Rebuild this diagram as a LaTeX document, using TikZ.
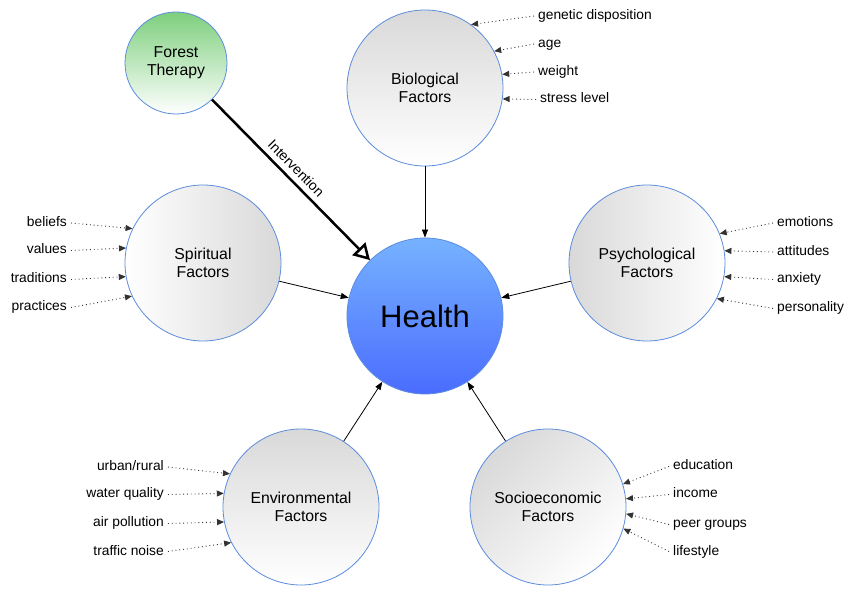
\documentclass[tikz,border=0pt]{standalone}
\usepackage{fontspec}
\setmainfont{Liberation Sans}
\usetikzlibrary{arrows.meta}
\definecolor{circblue}{RGB}{92,140,222}
\definecolor{healthtop}{RGB}{118,178,255}
\definecolor{healthbot}{RGB}{74,108,255}
\definecolor{forest}{RGB}{125,207,125}

\begin{document}
\begin{tikzpicture}[x=1pt,y=-1pt,
  factor/.style={circle,draw=circblue,line width=0.8pt,minimum size=156pt,inner sep=0pt,
    align=center,font=\fontsize{15.8}{18}\selectfont},
  item/.style={inner sep=4pt,text height=10pt,text depth=3pt,font=\fontsize{13.8}{16}\selectfont},
  feed/.style={black!80,line width=0.9pt,dash pattern=on 0.9pt off 2.9pt,-{Triangle[length=7pt,width=6pt]}},
  link/.style={line width=0.8pt,-{Triangle[length=8pt,width=6pt]}}]
  \useasboundingbox (0,0) rectangle (852,593);
  % circles
  \node[factor,top color=healthtop,bottom color=healthbot,font=\fontsize{31}{36}\selectfont] (health) at (425,316) {Health};
  \node[factor,top color=black!15,bottom color=white] (bio) at (425,88) {Biological\\Factors};
  \node[factor,left color=white,right color=black!15] (spir) at (203,263) {Spiritual\\Factors};
  \node[factor,left color=black!15,right color=white] (psy) at (647,263) {Psychological\\Factors};
  \node[factor,top color=black!15,bottom color=white] (env) at (301,507) {Environmental\\Factors};
  \node[factor,top color=black!15,bottom color=white,shading angle=45] (soc) at (548,507) {Socioeconomic\\Factors};
  \node[factor,minimum size=102pt,top color=forest,bottom color=white] (forest) at (176,63) {Forest\\Therapy};
  % biological
  \node[item,anchor=west] (gen) at (534,16) {genetic disposition};
  \node[item,anchor=west] (age) at (534,44) {age};
  \node[item,anchor=west] (wgt) at (534,72) {weight};
  \node[item,anchor=west] (str) at (536,99.5) {stress level};
  \draw[feed] (gen.west) -- (bio.54);
  \draw[feed] (age.west) -- (bio.28);
  \draw[feed] (wgt.west) -- (bio.10);
  \draw[feed] (str.west) -- (bio.-8);
  % spiritual
  \node[item,anchor=east] (bel) at (71,223) {beliefs};
  \node[item,anchor=east] (val) at (71,250.5) {values};
  \node[item,anchor=east] (tra) at (71,279.5) {traditions};
  \node[item,anchor=east] (pra) at (71,307.5) {practices};
  \draw[feed] (bel.east) -- (spir.154);
  \draw[feed] (val.east) -- (spir.169);
  \draw[feed] (tra.east) -- (spir.190);
  \draw[feed] (pra.east) -- (spir.205);
  % psychological
  \node[item,anchor=west] (emo) at (773,223) {emotions};
  \node[item,anchor=west] (att) at (773,252) {attitudes};
  \node[item,anchor=west] (anx) at (773,279.5) {anxiety};
  \node[item,anchor=west] (per) at (773,308.5) {personality};
  \draw[feed] (emo.west) -- (psy.22);
  \draw[feed] (att.west) -- (psy.9);
  \draw[feed] (anx.west) -- (psy.-10);
  \draw[feed] (per.west) -- (psy.-27);
  % environmental
  \node[item,anchor=east] (urb) at (168,467) {urban/rural};
  \node[item,anchor=east] (wat) at (168,494.5) {water quality};
  \node[item,anchor=east] (air) at (168,523.5) {air pollution};
  \node[item,anchor=east] (tra2) at (168,551.5) {traffic noise};
  \draw[feed] (urb.east) -- (env.155);
  \draw[feed] (wat.east) -- (env.170);
  \draw[feed] (air.east) -- (env.191);
  \draw[feed] (tra2.east) -- (env.207);
  % socioeconomic
  \node[item,anchor=west] (edu) at (669,466.5) {education};
  \node[item,anchor=west] (inc) at (669,494.5) {income};
  \node[item,anchor=west] (peer) at (669,524.5) {peer groups};
  \node[item,anchor=west] (life) at (669,551.5) {lifestyle};
  \draw[feed] (edu.west) -- (soc.17);
  \draw[feed] (inc.west) -- (soc.6);
  \draw[feed] (peer.west) -- (soc.-5);
  \draw[feed] (life.west) -- (soc.-16);
  % into health
  \draw[link] (bio) -- (health);
  \draw[link] (spir) -- (health);
  \draw[link] (psy) -- (health);
  \draw[link] (env) -- (health);
  \draw[link] (soc) -- (health);
  \draw[line width=2.5pt,-{Triangle[open,length=16pt,width=18pt]}] (forest) -- (health)
    node[pos=0.48,sloped,above=2pt,font=\fontsize{14}{16}\selectfont] {Intervention};
\end{tikzpicture}
\end{document}
